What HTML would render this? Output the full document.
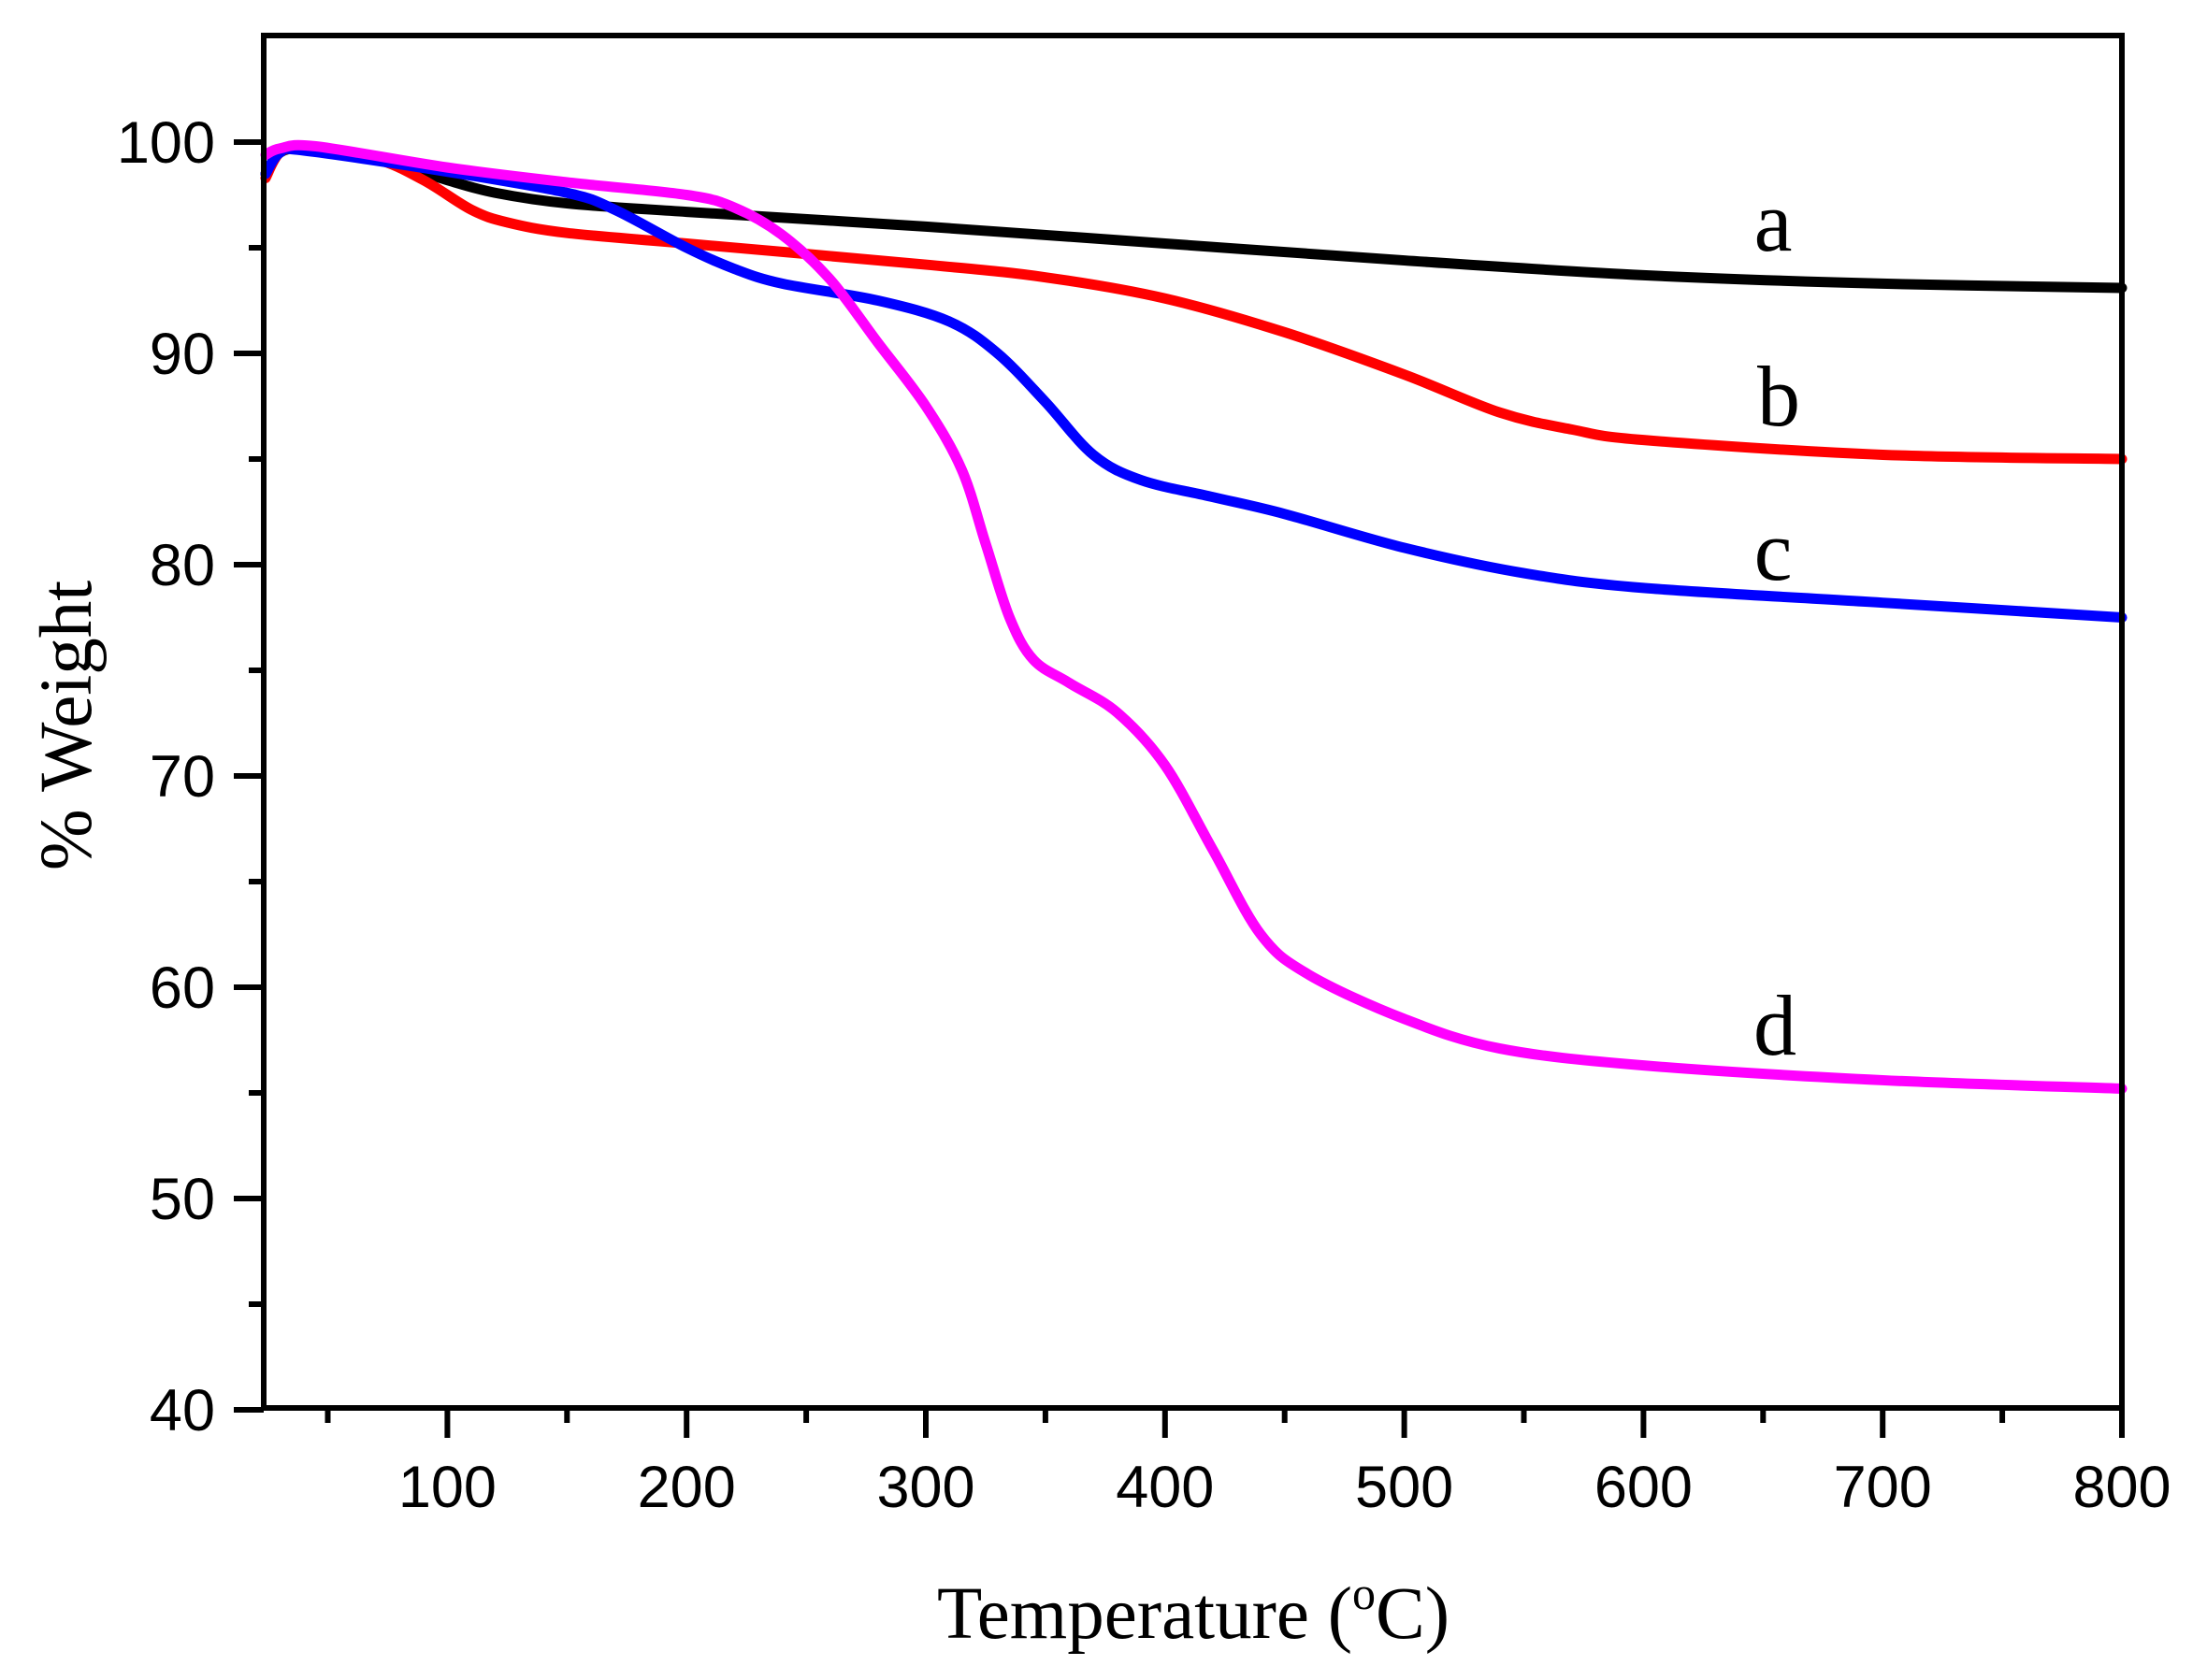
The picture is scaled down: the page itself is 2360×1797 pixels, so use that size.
<!DOCTYPE html>
<html><head><meta charset="utf-8"><style>
html,body{margin:0;padding:0;background:#fff;}
svg{display:block;}
</style></head><body>
<svg id="s" width="2360" height="1797" viewBox="0 0 2360 1797" xmlns="http://www.w3.org/2000/svg">
<rect width="2360" height="1797" fill="#fff"/>
<g id="curves" fill="none" stroke-width="11" stroke-linejoin="round" stroke-linecap="round"></g>
<rect x="282" y="38" width="1987" height="1468" fill="none" stroke="#000" stroke-width="6"/>
<g id="ticks" stroke="#000" stroke-width="6"></g>
<g id="labels" font-family="Liberation Sans, Arial, sans-serif" font-size="63" fill="#000"></g>
<g font-family="Liberation Serif, Times New Roman, serif" font-size="79" fill="#000">
<text x="1276" y="1752" text-anchor="middle">Temperature (<tspan font-size="50" dy="-31">o</tspan><tspan dy="31">C)</tspan></text>
<text transform="translate(97,776) rotate(-90)" text-anchor="middle">% Weight</text>
</g>
<g font-family="Liberation Serif, Times New Roman, serif" font-size="92" fill="#000">
<text x="1896" y="268" text-anchor="middle">a</text>
<text x="1902" y="455" text-anchor="middle">b</text>
<text x="1896" y="620" text-anchor="middle">c</text>
<text x="1898" y="1128" text-anchor="middle">d</text>
</g>
</svg>
<script>
var X=function(t){return 2269-(800-t)*2.558;};
var Y=function(w){return 152+(100-w)*22.6;};
var NS="http://www.w3.org/2000/svg";
var tk=document.getElementById('ticks'),lb=document.getElementById('labels');
function el(p,n,a,txt){var e=document.createElementNS(NS,n);for(var k in a)e.setAttribute(k,a[k]);if(txt)e.textContent=txt;p.appendChild(e);}
for(var t=50;t<=800;t+=50){var x=X(t),maj=t%100==0;el(tk,'line',{x1:x,x2:x,y1:1506,y2:maj?1538:1522});if(maj)el(lb,'text',{x:x,y:1612,'text-anchor':'middle'},String(t));}
for(var w=40;w<=100;w+=5){var y=Y(w),maj=w%10==0;el(tk,'line',{x1:282,x2:maj?250:266,y1:y,y2:y});if(maj)el(lb,'text',{x:230,y:y+22,'text-anchor':'end'},String(w));}
var data={
'#000':[[24,98.5],[30,99.5],[40,99.7],[60,99.4],[80,98.9],[100,98.2],[120,97.6],[150,97.1],[200,96.7],[300,96.0],[400,95.2],[500,94.4],[600,93.7],[700,93.3],[800,93.1]],
'#ff0000':[[24,98.3],[30,99.5],[40,99.7],[70,99.2],[90,98.2],[110,96.8],[125,96.2],[150,95.7],[200,95.2],[300,94.2],[350,93.6],[400,92.6],[450,91.0],[500,89.0],[540,87.2],[570,86.4],[600,85.9],[700,85.2],[800,85.0]],
'#0000ff':[[24,98.5],[30,99.5],[40,99.6],[100,98.6],[150,97.6],[170,96.8],[200,95.0],[220,94.0],[240,93.3],[280,92.5],[310,91.5],[330,90.0],[350,87.7],[370,85.2],[390,84.0],[420,83.2],[450,82.4],[500,80.8],[550,79.6],[600,78.9],[700,78.2],[800,77.5]],
'#ff00ff':[[24,99.4],[30,99.7],[45,99.8],[100,98.8],[150,98.1],[200,97.5],[220,96.9],[240,95.6],[260,93.5],[280,90.5],[300,87.5],[315,84.5],[325,81],[335,77.5],[345,75.5],[360,74.4],[380,73.0],[400,70.5],[420,66.5],[440,62.5],[460,60.6],[500,58.5],[540,57.1],[600,56.3],[700,55.6],[800,55.2]]
};
var g=document.getElementById('curves');
for(var c in data){var p=data[c].map(function(q){return [X(q[0]),Y(q[1])];});
var d='M'+p[0][0]+','+p[0][1];
for(var i=0;i<p.length-1;i++){var p0=p[i-1]||p[i],p1=p[i],p2=p[i+1],p3=p[i+2]||p2;
d+=' C'+(p1[0]+(p2[0]-p0[0])/6)+','+(p1[1]+(p2[1]-p0[1])/6)+' '+(p2[0]-(p3[0]-p1[0])/6)+','+(p2[1]-(p3[1]-p1[1])/6)+' '+p2[0]+','+p2[1];}
el(g,'path',{d:d,stroke:c});}
</script>
</body></html>
